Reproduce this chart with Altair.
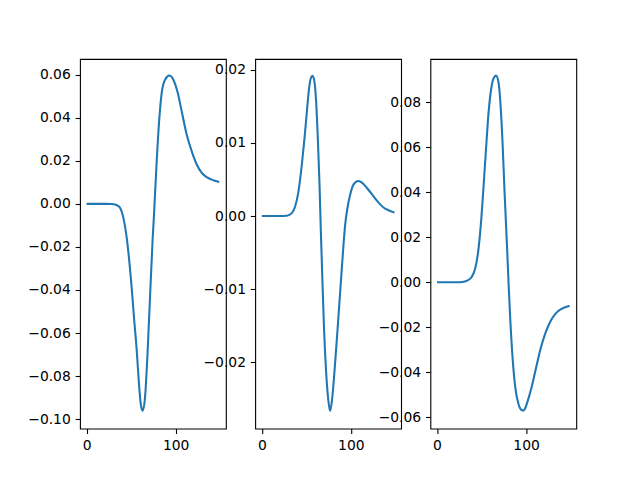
import altair as alt
import pandas as pd

# Panel 1
x1 = [0, 10, 20, 28, 31.9, 34.7, 37.5, 41.2, 45, 47.9, 50.6, 53.2, 56.3, 58.8, 60.8, 63, 65.6, 68.2, 71.2, 74.2, 75.7, 78.7, 81.7, 84.3, 88.1, 92.9, 97.4, 101.9, 106.8, 112.4, 118, 123.7, 129.3, 134.9, 142.3, 149]
y1 = [0, 0, 0, -0.0001, -0.0003, -0.0008, -0.0018, -0.0064, -0.0157, -0.0265, -0.0389, -0.0528, -0.0682, -0.0837, -0.0930, -0.0961, -0.0899, -0.0713, -0.0435, -0.016, -0.0049, 0.0198, 0.0399, 0.0515, 0.0577, 0.0596, 0.0577, 0.0523, 0.0430, 0.0322, 0.0245, 0.0183, 0.0144, 0.0124, 0.0110, 0.0102]

# Panel 2
x2 = [0, 10, 20, 28, 33.7, 37.4, 41.1, 44.9, 47.9, 50.6, 53.1, 55.1, 56.9, 59.1, 61, 62.9, 64.7, 66.3, 68.1, 70, 72.2, 74.5, 76.7, 79, 81.6, 84.9, 88.8, 91.7, 93.6, 96.2, 99.2, 102.9, 108.5, 114.2, 119, 123.6, 128, 132.9, 137.5, 142.2, 149]
y2 = [0, 0, 0, 0.00005, 0.0004, 0.0013, 0.0033, 0.0070, 0.0106, 0.0143, 0.0175, 0.0189, 0.0192, 0.0184, 0.0157, 0.0106, 0.0047, -0.0021, -0.0090, -0.0158, -0.0213, -0.0250, -0.0267, -0.0250, -0.0213, -0.0158, -0.0090, -0.0040, -0.0012, 0.0011, 0.0029, 0.0043, 0.0048, 0.0044, 0.0037, 0.0030, 0.0023, 0.0016, 0.0011, 0.0008, 0.00047]

# Panel 3
x3 = [0, 10, 20, 26.2, 30, 33.7, 39.3, 43, 46.7, 49.8, 52.4, 55.1, 58, 61, 63.6, 66.3, 68.9, 71.1, 73.7, 76, 78.7, 80.6, 82.4, 84.9, 88, 91.7, 94.2, 96.6, 98.8, 101.1, 106, 111.2, 116.1, 121.7, 127.3, 132.9, 140.4, 149]
y3 = [0, 0, 0, 0, 0.0002, 0.0007, 0.0026, 0.0063, 0.0152, 0.0285, 0.0434, 0.0596, 0.0759, 0.0863, 0.0907, 0.0918, 0.0892, 0.0804, 0.0611, 0.0389, 0.0152, -0.0025, -0.0174, -0.0337, -0.0470, -0.0544, -0.0565, -0.0570, -0.0562, -0.0537, -0.0470, -0.0381, -0.0299, -0.0226, -0.0174, -0.0140, -0.0117, -0.0104]

x_ticks = [0, 100]
y_ticks1 = [-0.10, -0.08, -0.06, -0.04, -0.02, 0.00, 0.02, 0.04, 0.06]
y_ticks2 = [-0.02, -0.01, 0.00, 0.01, 0.02]
y_ticks3 = [-0.06, -0.04, -0.02, 0.00, 0.02, 0.04, 0.06, 0.08]

W = 145.9
H = 369.6
X_DOMAIN = [-7.45, 156.45]


def panel(xs, ys, ydom, yticks):
    df = pd.DataFrame({"x": xs, "y": ys})
    return alt.Chart(df).mark_line(
        color="#1f77b4", strokeWidth=2.08, interpolate="monotone", clip=True
    ).encode(
        x=alt.X("x:Q", scale=alt.Scale(domain=X_DOMAIN, nice=False, zero=False),
                axis=alt.Axis(values=x_ticks, format="d", title=None, grid=False)),
        y=alt.Y("y:Q", scale=alt.Scale(domain=ydom, nice=False, zero=False),
                axis=alt.Axis(values=yticks, format=".2f", title=None, grid=False)),
    ).properties(width=W, height=H)


p1 = panel(x1, y1, [-0.1044, 0.0673], y_ticks1)
p2 = panel(x2, y2, [-0.0291, 0.0215], y_ticks2)
p3 = panel(x3, y3, [-0.0650, 0.0992], y_ticks3)

chart = alt.hconcat(p1, p2, p3, spacing=29.2, bounds="flush").properties(
    padding={"left": 19, "top": 50, "right": 10, "bottom": 10},
    background="white",
).configure_view(
    stroke="black", strokeWidth=1.1
).configure_axis(
    grid=False, domain=False, tickColor="black", tickWidth=1.1, tickSize=4.86,
    labelPadding=4.86, labelColor="black", labelFont="DejaVu Sans",
    labelFontSize=13.9, labelFlush=False, labelOverlap=False
)

chart.save("out.html", embed_options={"renderer": "svg", "actions": False})
